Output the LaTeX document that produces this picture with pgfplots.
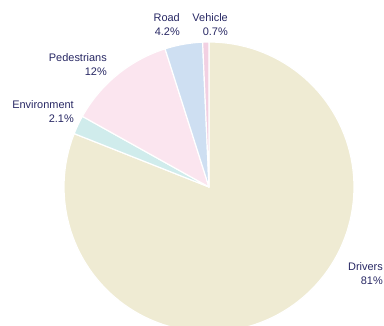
\documentclass[border=0pt]{standalone}
\usepackage{fontspec}
\setmainfont{Liberation Sans}
\usepackage{pgfplots}
\usepackage{pgfplotstable}
\pgfplotsset{compat=1.18}
\definecolor{c0}{RGB}{239,235,211}
\definecolor{c1}{RGB}{208,236,236}
\definecolor{c2}{RGB}{251,229,239}
\definecolor{c3}{RGB}{206,223,242}
\definecolor{c4}{RGB}{242,208,226}
\definecolor{lab}{RGB}{40,40,100}
\pgfplotstableread{
label value
Drivers 81
Environment 2.1
Pedestrians 12
Road 4.2
Vehicle 0.7
}\piedata
\begin{document}
\begin{tikzpicture}
\begin{axis}[
  width=384bp, height=326bp, scale only axis,
  xmin=0, xmax=384, ymin=0, ymax=326,
  hide axis, clip=true,
]
\pgfplotstablegetrowsof{\piedata}
\pgfmathtruncatemacro\N{\pgfplotsretval-1}
\gdef\angstart{90}
\pgfplotsforeachungrouped \i in {0,...,\N}{%
  \pgfplotstablegetelem{\i}{value}\of\piedata
  \pgfmathsetmacro\angend{\angstart-3.6*\pgfplotsretval}%
  \edef\temp{\noexpand\addplot[fill=c\i, draw=white, line width=1.2pt, line join=round, domain=\angend:\angstart, samples=120] ({209+145*cos(x)},{139+145*sin(x)}) -- (axis cs:209,139) -- cycle;}%
  \temp
  \global\let\angstart\angend
}
\tikzset{lbl/.style={anchor=north east, align=right, inner sep=0pt, font=\fontsize{11}{14}\selectfont, text=lab}}
\node[lbl] at (axis cs:180,313) {Road\\4.2\%};
\node[lbl] at (axis cs:228,313) {Vehicle\\0.7\%};
\node[lbl] at (axis cs:107,273) {Pedestrians\\12\%};
\node[lbl] at (axis cs:74,226) {Environment\\2.1\%};
\node[lbl] at (axis cs:383,64) {Drivers\\81\%};
\end{axis}
\pgfresetboundingbox
\path (current axis.south west) rectangle (current axis.north east);
\end{tikzpicture}
\end{document}
